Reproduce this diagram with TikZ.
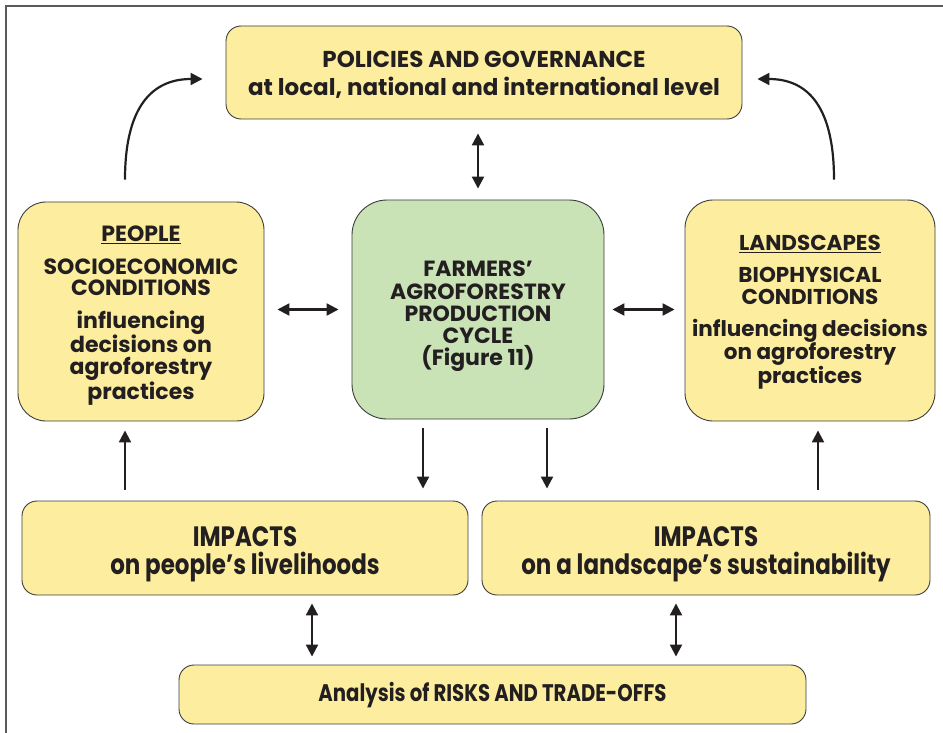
\documentclass[tikz,border=0pt]{standalone}
\usepackage{fontspec}
\setmainfont{Poppins}
\newfontfamily\condfont{Poppins}[FakeStretch=0.82]
\usetikzlibrary{arrows.meta,calc}
\definecolor{boxyellow}{HTML}{FCEE9E}
\definecolor{boxgreen}{HTML}{C9E3B6}
\definecolor{edgegray}{HTML}{3C3C3C}
\definecolor{ink}{HTML}{231F20}
\definecolor{framegray}{HTML}{5A5A5A}
\begin{document}
\begin{tikzpicture}[x=1pt,y=-1pt,
  box/.style={draw=edgegray, line width=0.9pt, rounded corners=#1, inner sep=0pt, fill=boxyellow},
  txt/.style={align=center, text=ink, inner sep=0pt},
  arr/.style={line width=2.2pt, draw=ink, -{Triangle[length=12pt,width=12pt]}},
  darr/.style={line width=2.2pt, draw=ink, {Triangle[length=12pt,width=12pt]}-{Triangle[length=12pt,width=12pt]}}
]
\useasboundingbox (0,0) rectangle (943,733);
\draw[framegray, line width=1.2pt] (6,733) -- (6,6) -- (943,6);

% boxes
\node[box=15pt, minimum width=516pt, minimum height=93pt] (pol) at (484,72.5) {};
\node[box=28pt, minimum width=246pt, minimum height=219pt] (peo) at (141,311.5) {};
\node[box=35pt, fill=boxgreen, minimum width=252pt, minimum height=219pt] (cen) at (478,309.5) {};
\node[box=28pt, minimum width=250pt, minimum height=221pt] (lan) at (810,310.5) {};
\node[box=15pt, minimum width=446pt, minimum height=94pt] (impL) at (245,548) {};
\node[box=15pt, minimum width=448pt, minimum height=94pt] (impR) at (706,548) {};
\node[box=15pt, minimum width=627pt, minimum height=59pt] (bot) at (492.5,694.5) {};

% texts
\node[txt, font=\bfseries\fontsize{23}{28}\selectfont] (polt) at ([yshift=-2pt]pol.center)
  {POLICIES AND GOVERNANCE\\at local, national and international level};
\node[txt, font=\bfseries\fontsize{22}{21.5}\selectfont] (peot) at ([yshift=-4pt]peo.center)
  {\underline{PEOPLE}\\[11pt]SOCIOECONOMIC\\CONDITIONS\\[11pt]influencing\\decisions on\\agroforestry\\practices};
\node[txt, font=\bfseries\fontsize{22}{22.3}\selectfont] (cent) at ([yshift=-7pt]cen.center)
  {FARMERS’\\AGROFORESTRY\\PRODUCTION\\CYCLE\\(Figure 11)};
\node[txt, font=\bfseries\fontsize{21.5}{22.5}\selectfont] (lant) at ([yshift=-2pt]lan.center)
  {\underline{LANDSCAPES}\\[9pt]BIOPHYSICAL\\CONDITIONS\\[9pt]influencing decisions\\on agroforestry\\practices};
\node[txt, font=\condfont\bfseries\fontsize{28}{28}\selectfont] (impLt) at ([yshift=-6pt]impL.center)
  {IMPACTS\\on people’s livelihoods};
\node[txt, font=\condfont\bfseries\fontsize{28}{28}\selectfont] (impRt) at ([yshift=-6pt]impR.center)
  {IMPACTS\\on a landscape’s sustainability};
\node[txt, font=\condfont\bfseries\fontsize{24}{24}\selectfont] (bott) at ([yshift=-1pt]bot.center)
  {Analysis of RISKS AND TRADE-OFFS};

% connectors
\draw[darr, shorten <=14pt, shorten >=11pt] (cen.north |- pol.south) -- (cen.north);
\draw[darr, shorten <=13pt, shorten >=13pt] (cen.west -| peo.east) -- (cen.west);
\draw[darr, shorten <=8pt, shorten >=10pt] (cen.east) -- (cen.east -| lan.west);
\draw[arr, shorten <=9pt, shorten >=12pt] ([xshift=-55pt]cen.south) -- ([xshift=-55pt]cen.south |- impL.north);
\draw[arr, shorten <=9pt, shorten >=12pt] ([xshift=69pt]cen.south) -- ([xshift=69pt]cen.south |- impR.north);
\draw[arr, shorten <=11pt, shorten >=9pt] ([xshift=-16pt]peo.south |- impL.north) -- ([xshift=-16pt]peo.south);
\draw[arr, shorten <=11pt, shorten >=9pt] ([xshift=8pt]lan.south |- impR.north) -- ([xshift=8pt]lan.south);
\draw[darr, shorten <=8pt, shorten >=8pt] ([xshift=67pt]impL.south) -- ([xshift=67pt]impL.south |- bot.north);
\draw[darr, shorten <=8pt, shorten >=8pt] ([xshift=-30pt]impR.south) -- ([xshift=-30pt]impR.south |- bot.north);
\coordinate (cl) at ([xshift=-16pt,yshift=22pt]peo.north);
\coordinate (cr) at ([xshift=24pt,yshift=20pt]lan.north);
\draw[arr] (cl) .. controls +(0,-80) and +(-45,0) .. ([xshift=-23pt,yshift=-6.5pt]pol.west);
\draw[arr] (cr) .. controls +(0,-80) and +(45,0) .. ([xshift=15pt,yshift=-6.5pt]pol.east);
\end{tikzpicture}
\end{document}
